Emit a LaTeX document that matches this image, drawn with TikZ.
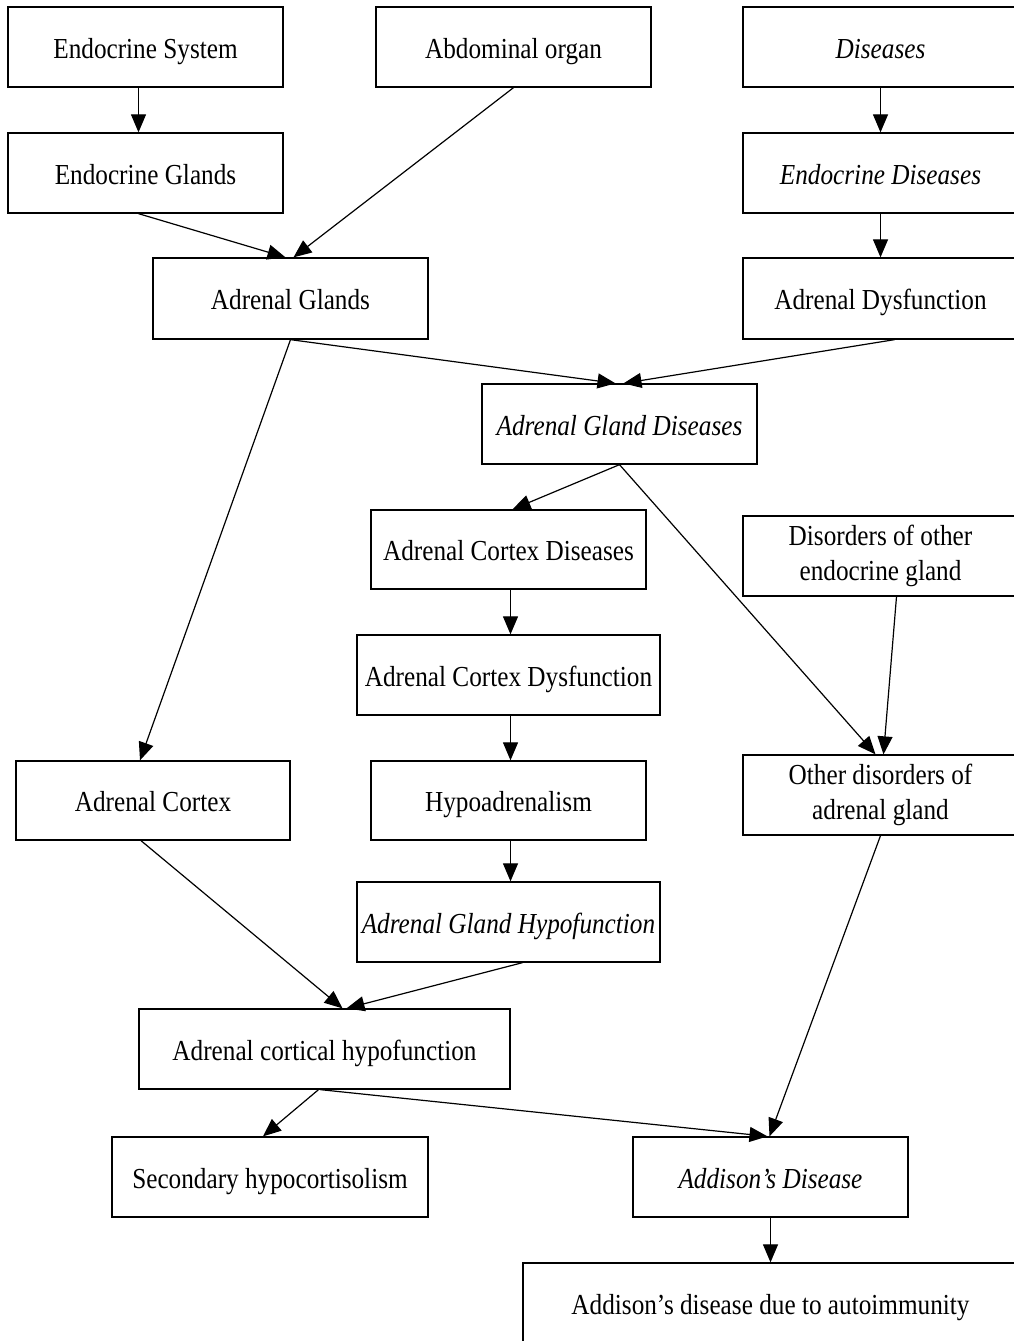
\documentclass[tikz,border=0pt]{standalone}
\usepackage{fontspec}
\setmainfont[FakeStretch=0.87]{Liberation Serif}
\usetikzlibrary{arrows.meta}
\tikzstyle{caja}=[rectangle, draw, line width=1.3pt, minimum width=275pt, minimum height=80pt, inner sep=0pt, align=center, font=\fontsize{29}{35}\selectfont]
\tikzstyle{linea}=[text height=22pt, text depth=0pt]
\tikzstyle{flecha}=[line width=1.2pt, -{Triangle[length=18pt,width=15pt]}]

\begin{document}
\begin{tikzpicture}[x=1pt, y=-1pt]
            \useasboundingbox (0,0) rectangle (1013,1341);
            % Cajas
            \node[caja, linea] (es) at (145.5,47) {Endocrine System};
            \node[caja, linea] (ab) at (513.5,47) {Abdominal organ};
            \node[caja, linea] (di) at (880.5,47) {\itshape Diseases};
            \node[caja, linea] (eg) at (145.5,173) {Endocrine Glands};
            \node[caja, linea] (ed) at (880.5,173) {\itshape Endocrine Diseases};
            \node[caja, linea, minimum height=81pt] (ag) at (290.5,298.5) {Adrenal Glands};
            \node[caja, linea, minimum height=81pt] (ad) at (880.5,298.5) {Adrenal Dysfunction};
            \node[caja, linea] (agd) at (619.5,424) {\itshape Adrenal Gland Diseases};
            \node[caja, linea, minimum height=79pt] (acd) at (508.5,549.5) {Adrenal Cortex Diseases};
            \node[caja] (dog) at (880.5,556) {Disorders of other\\endocrine gland};
            \node[caja, linea, minimum width=303pt] (acf) at (508.5,675) {Adrenal Cortex Dysfunction};
            \node[caja, linea, minimum width=274pt, minimum height=79pt] (ac) at (153,800.5) {Adrenal Cortex};
            \node[caja, linea, minimum height=79pt] (hy) at (508.5,800.5) {Hypoadrenalism};
            \node[caja] (oda) at (880.5,795) {Other disorders of\\adrenal gland};
            \node[caja, linea, minimum width=303pt] (agh) at (508.5,922) {\itshape Adrenal Gland Hypofunction};
            \node[caja, linea, minimum width=371pt] (ach) at (324.5,1049) {Adrenal cortical hypofunction};
            \node[caja, linea, minimum width=316pt] (sh) at (270,1177) {Secondary hypocortisolism};
            \node[caja, linea] (add) at (770.5,1177) {\itshape Addison’s Disease};
            \node[caja, linea, minimum width=495pt] (aa) at (770.5,1303) {Addison’s disease due to autoimmunity};
            % Flechas
            \draw[flecha] ([xshift=-7pt]es.south) -- ([xshift=-7pt]eg.north);
            \draw[flecha] ([xshift=-7pt]eg.south) -- ([xshift=-5pt]ag.north);
            \draw[flecha] (ab.south) -- ([xshift=3pt]ag.north);
            \draw[flecha] (di.south) -- (ed.north);
            \draw[flecha] (ed.south) -- (ad.north);
            \draw[flecha] (ag.south) -- ([xshift=-4pt]agd.north);
            \draw[flecha] ([xshift=14pt]ad.south) -- ([xshift=4pt]agd.north);
            \draw[flecha] (ag.south) -- ([xshift=-13pt]ac.north);
            \draw[flecha] (agd.south) -- ([xshift=4pt]acd.north);
            \draw[flecha] (agd.south) -- ([xshift=-5pt]oda.north);
            \draw[flecha] ([xshift=16pt]dog.south) -- ([xshift=3pt]oda.north);
            \draw[flecha] ([xshift=2pt]acd.south) -- ([xshift=2pt]acf.north);
            \draw[flecha] ([xshift=2pt]acf.south) -- ([xshift=2pt]hy.north);
            \draw[flecha] ([xshift=2pt]hy.south) -- ([xshift=2pt]agh.north);
            \draw[flecha] ([xshift=-12pt]ac.south) -- ([xshift=18pt]ach.north);
            \draw[flecha] ([xshift=14pt]agh.south) -- ([xshift=22pt]ach.north);
            \draw[flecha] ([xshift=-6pt]ach.south) -- ([xshift=-7pt]sh.north);
            \draw[flecha] ([xshift=-4pt]ach.south) -- ([xshift=-3pt]add.north);
            \draw[flecha] (oda.south) -- ([xshift=-1pt]add.north);
            \draw[flecha] (add.south) -- (aa.north);
        \end{tikzpicture}
\end{document}
